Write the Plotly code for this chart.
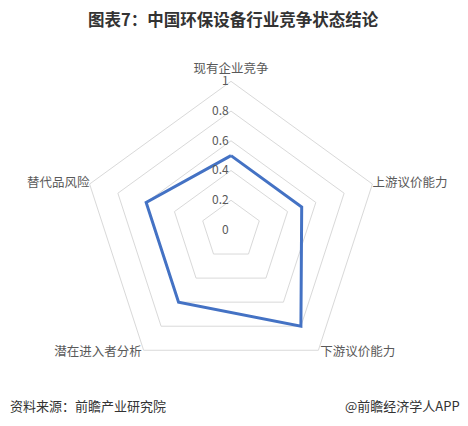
"""
Radar chart: competitive state of China's environmental protection equipment industry.
"""

import plotly.graph_objects as go


TITLE = "图表7：中国环保设备行业竞争状态结论"
SOURCE = "资料来源：前瞻产业研究院"
CREDIT = "@前瞻经济学人APP"

categories = ["现有企业竞争", "上游议价能力", "下游议价能力", "潜在进入者分析", "替代品风险"]
values = [0.5, 0.5, 0.8, 0.6, 0.6]
radial_ticks = [0, 0.2, 0.4, 0.6, 0.8, 1]
radial_ticktext = ["0", "0.2", "0.4", "0.6", "0.8", "1"]

FONT = "Noto Sans CJK SC"
GRID = "#d9d9d9"
TEXT = "#595959"
LINE = "#4472c4"

# radial room beyond 1 so the category names fit inside the polar area
R_MAX = 1.12
# where the category names sit (radius in axis units, anchor side)
LABEL_R = [1.08, 1.0, 1.02, 1.02, 1.0]
LABEL_POS = ["middle center", "middle right", "middle right", "middle left", "middle left"]


def main():
    """build and save the figure"""
    # close the polygon
    r = values + values[:1]
    theta = categories + categories[:1]

    fig = go.Figure()
    fig.add_trace(
        go.Scatterpolar(
            r=r,
            theta=theta,
            mode="lines",
            line=dict(color=LINE, width=3),
            hoverinfo="r+theta",
        )
    )
    # category names
    fig.add_trace(
        go.Scatterpolar(
            r=LABEL_R,
            theta=categories,
            mode="text",
            text=categories,
            textposition=LABEL_POS,
            textfont=dict(size=12.5, color=TEXT),
            cliponaxis=False,
            hoverinfo="skip",
        )
    )

    # the page body has an 8px margin, positions below are shifted for it
    fig.update_layout(
        width=468,
        height=426,
        margin=dict(l=0, r=0, t=0, b=0),
        paper_bgcolor="white",
        plot_bgcolor="white",
        showlegend=False,
        font=dict(family=FONT, size=12, color=TEXT),
        polar=dict(
            domain=dict(x=[0.1207, 0.8323], y=[0.088, 0.8698]),
            gridshape="linear",
            bgcolor="white",
            radialaxis=dict(
                range=[0, R_MAX],
                tickvals=radial_ticks,
                ticktext=radial_ticktext,
                angle=90,
                # the axis layer is turned by -90, turn the labels back upright
                tickangle=90,
                side="counterclockwise",
                showticklabels=True,
                showline=False,
                ticks="",
                gridcolor=GRID,
                gridwidth=1,
                tickfont=dict(size=12, color=TEXT),
            ),
            angularaxis=dict(
                direction="clockwise",
                rotation=90,
                showgrid=False,
                showline=False,
                showticklabels=False,
                ticks="",
            ),
        ),
        annotations=[
            dict(
                text="<b>" + TITLE + "</b>",
                x=0.4808, y=0.974, xref="paper", yref="paper",
                xanchor="center", yanchor="middle", showarrow=False,
                font=dict(size=16.5, color="#333333"),
            ),
            dict(
                text=SOURCE,
                x=0.0, y=0.066, xref="paper", yref="paper",
                xanchor="left", yanchor="middle", showarrow=False,
                font=dict(size=13, color="#333333"),
            ),
            dict(
                text=CREDIT,
                x=0.970, y=0.066, xref="paper", yref="paper",
                xanchor="right", yanchor="middle", showarrow=False,
                font=dict(size=13, color="#333333"),
            ),
        ],
    )

    fig.write_html("out.html")


if __name__ == "__main__":
    main()
